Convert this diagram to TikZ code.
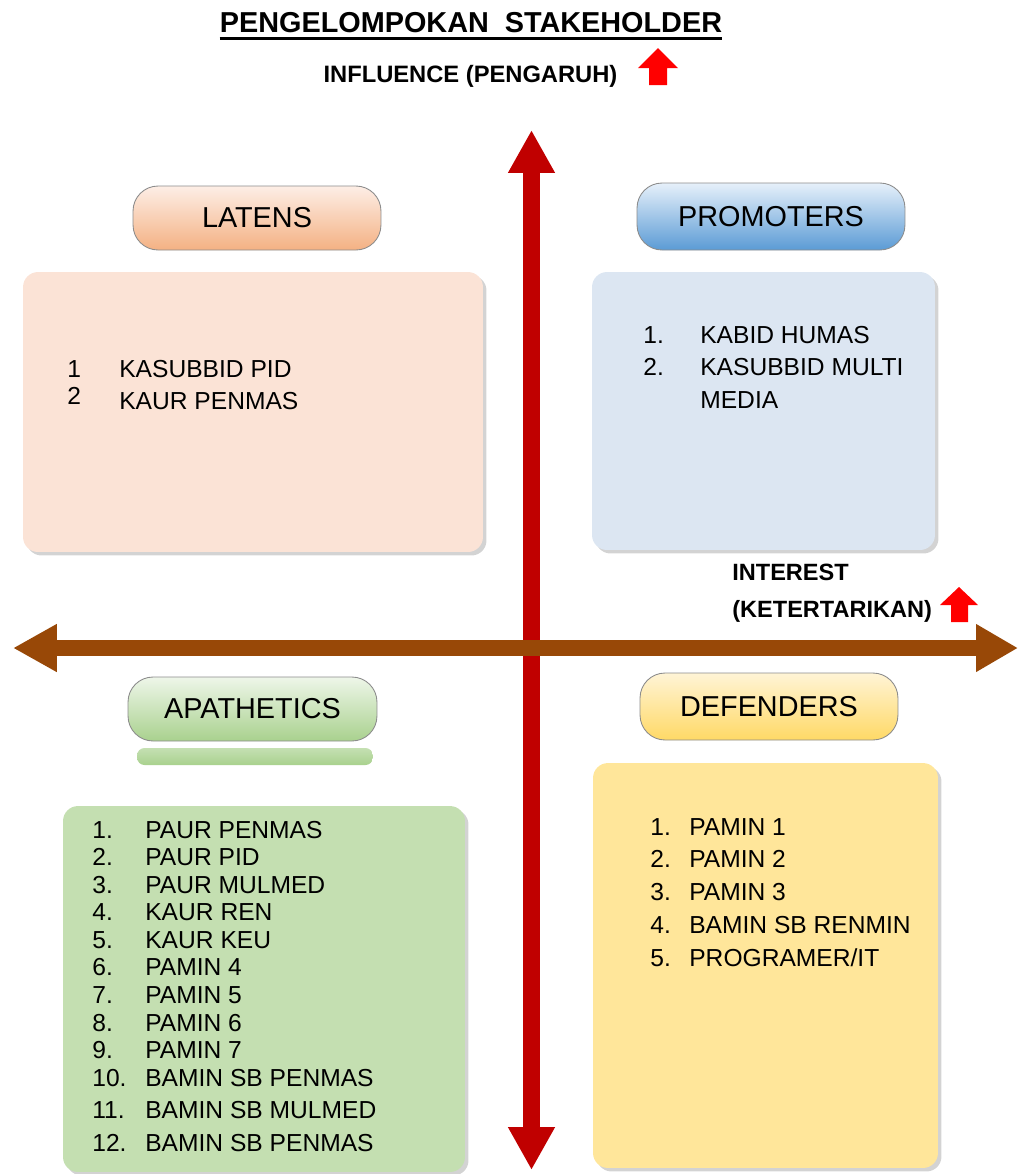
\documentclass[tikz,border=0pt]{standalone}
\usepackage{fontspec}
\setmainfont{Liberation Sans}
\usetikzlibrary{arrows.meta}
\usetikzlibrary{shadows}

\definecolor{latfill}{HTML}{FBE3D6}
\definecolor{lattop}{HTML}{FDEEE6}
\definecolor{latbot}{HTML}{F4B183}
\definecolor{profill}{HTML}{DCE6F2}
\definecolor{protop}{HTML}{E6F0FA}
\definecolor{probot}{HTML}{5B9BD5}
\definecolor{apafill}{HTML}{C4DFB1}
\definecolor{apatop}{HTML}{EEF6E9}
\definecolor{apabot}{HTML}{A9D18E}
\definecolor{deffill}{HTML}{FFE69A}
\definecolor{deftop}{HTML}{FFF4D6}
\definecolor{defbot}{HTML}{FFD966}
\definecolor{merahtua}{HTML}{C00000}
\definecolor{coklat}{HTML}{984807}

\tikzset{
  tombol/.style={rounded corners=0.5cm, draw=black!45, line width=0.5pt,
    font=\fontsize{16.4}{19}\selectfont},
  kotak/.style={rounded corners=0.3cm, draw=none,
    drop shadow={shadow xshift=0.07cm, shadow yshift=-0.07cm, opacity=0.35}},
  daftar/.style={anchor=base west, inner sep=0pt},
}

\begin{document}
\begin{tikzpicture}[x=0.02cm,y=-0.02cm]
\useasboundingbox (0,0) rectangle (1019,1174);

% judul dan label sumbu
\node[anchor=base, inner sep=0pt, font=\fontsize{16.4}{19}\selectfont\bfseries] (judul) at (471,32) {PENGELOMPOKAN\ \ STAKEHOLDER};
\draw[line width=1.7pt] ([yshift=-0.13cm]judul.base west) -- ([yshift=-0.13cm]judul.base east);
\node[anchor=base, font=\fontsize{13.5}{16}\selectfont\bfseries] (pengaruh) at (470.5,82) {INFLUENCE (PENGARUH)};
\fill[red, shift={(658,48)}] (0,0) -- (20,20) -- (9,20) -- (9,37) -- (-9,37) -- (-9,20) -- (-20,20) -- cycle;

% kotak kuadran
\node[kotak, fill=latfill, minimum width=9.2cm, minimum height=5.6cm] (latbox) at (253,412) {};
\node[kotak, fill=profill, minimum width=6.86cm, minimum height=5.56cm] (probox) at (763.5,411) {};
\node[kotak, fill=apafill, minimum width=8.04cm, minimum height=7.32cm] (apabox) at (264,989) {};
\node[kotak, fill=deffill, minimum width=6.9cm, minimum height=8.1cm] (defbox) at (765.5,965.5) {};

\node[anchor=base west, inner sep=0pt, align=left, font=\fontsize{13.4}{21}\selectfont\bfseries] (minat) at (732,617) {INTEREST\\(KETERTARIKAN)};
\fill[red, shift={(959,587)}] (0,0) -- (19,18) -- (9,18) -- (9,35) -- (-8,35) -- (-8,18) -- (-19,18) -- cycle;

% tombol judul kuadran
\node[tombol, top color=lattop, bottom color=latbot, minimum width=4.96cm, minimum height=1.28cm] (latens) at (257,218) {LATENS};
\node[tombol, top color=protop, bottom color=probot, minimum width=5.36cm, minimum height=1.34cm] (promoters) at (771,216.5) {PROMOTERS};
\node[tombol, top color=apatop, bottom color=apabot, minimum width=4.98cm, minimum height=1.28cm] (apathetics) at (252.5,709) {APATHETICS};
\node[rounded corners=0.15cm, top color=apatop!40!apabot, bottom color=apabot, minimum width=4.72cm, minimum height=0.34cm, inner sep=0pt] (apabar) at (255,756.5) {};
\node[tombol, top color=deftop, bottom color=defbot, minimum width=5.16cm, minimum height=1.34cm] (defenders) at (769,706.5) {DEFENDERS};

% isi tiap kuadran
\node[daftar, font=\fontsize{14}{18.7}\selectfont] (latlist) at (67,377) {%
\begin{tabular}[t]{@{}p{1.04cm}@{}l@{}}
1 & KASUBBID PID\\
\raisebox{2.8pt}{2} & KAUR PENMAS
\end{tabular}};

\node[daftar, font=\fontsize{14}{18.7}\selectfont] (prolist) at (643,343) {%
\begin{tabular}[t]{@{}p{1.14cm}@{}l@{}}
1. & KABID HUMAS\\
2. & KASUBBID MULTI\\
 & MEDIA
\end{tabular}};

\node[daftar, font=\fontsize{14}{15.7}\selectfont] (apalist) at (92,838) {%
\begin{tabular}[t]{@{}p{1.06cm}@{}l@{}}
1. & PAUR PENMAS\\
2. & PAUR PID\\
3. & PAUR MULMED\\
4. & KAUR REN\\
5. & KAUR KEU\\
6. & PAMIN 4\\
7. & PAMIN 5\\
8. & PAMIN 6\\
9. & PAMIN 7\\
10. & BAMIN SB PENMAS\\[2.8pt]
11. & BAMIN SB MULMED\\[2.8pt]
12. & BAMIN SB PENMAS
\end{tabular}};

\node[daftar, font=\fontsize{14}{18.7}\selectfont] (deflist) at (650,835) {%
\begin{tabular}[t]{@{}p{0.78cm}@{}l@{}}
1. & PAMIN 1\\
2. & PAMIN 2\\
3. & PAMIN 3\\
4. & BAMIN SB RENMIN\\
5. & PROGRAMER/IT
\end{tabular}};

% sumbu influence lalu interest di atasnya
\coordinate (kiri) at (13,648);
\coordinate (kanan) at (1018,648);
\coordinate (atas) at (531.5,130);
\coordinate (bawah) at (531.5,1170);
\draw[merahtua, line width=0.33cm, {Triangle[width=0.88cm,length=0.86cm]}-{Triangle[width=0.88cm,length=0.86cm]}] (atas) -- (bawah);
\draw[coklat, line width=0.33cm, {Triangle[width=0.9cm,length=0.88cm]}-{Triangle[width=0.9cm,length=0.84cm]}] (kiri) -- (kanan);
\end{tikzpicture}
\end{document}
